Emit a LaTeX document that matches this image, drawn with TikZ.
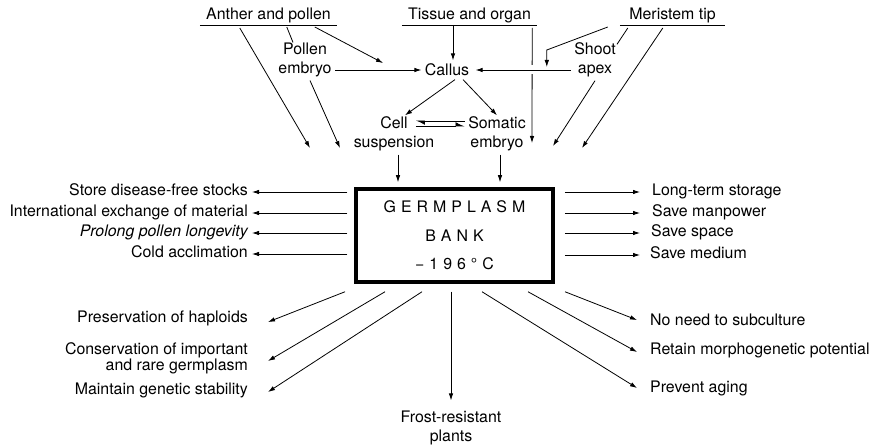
\documentclass[tikz,border=0pt]{standalone}
\usepackage{fontspec}
\setmainfont{TeX Gyre Heros}
\usetikzlibrary{arrows.meta, positioning, calc}

\newcommand{\ls}{\hspace{5pt}}

\begin{document}
\begin{tikzpicture}[x=1pt, y=-1pt, font=\fontsize{15.9}{19}\selectfont,
    arr/.style={-{Latex[length=7pt, width=4.5pt]}, line width=0.8pt},
    harp/.style={-{Latex[length=8pt, width=8pt, harpoon]}, line width=0.8pt},
    ln/.style={line width=0.8pt},
    src/.style={inner xsep=0pt, inner ysep=2pt, anchor=south},
    side/.style={inner sep=0pt, text height=11pt, text depth=3pt}]
  \useasboundingbox (0,0) rectangle (886,446);

  % starting material
  \node [src, minimum width=137pt] (anther) at (268.5,25) {Anther and pollen};
  \node [src, minimum width=135pt] (tissue) at (469.5,25) {Tissue and organ};
  \node [src, minimum width=105pt] (meri) at (672.5,25) {Meristem tip};
  \draw [ln] (anther.south west) -- (anther.south east);
  \draw [ln] (tissue.south west) -- (tissue.south east);
  \draw [ln] (meri.south west) -- (meri.south east);

  \node [align=center] (pemb) at (305,60) {Pollen\\embryo};
  \node (callus) at (447,70) {Callus};
  \node [align=center] (shoot) at (595,60) {Shoot\\apex};
  \node [align=center] (csus) at (394,134) {Cell\\suspension};
  \node [align=center] (semb) at (497,134) {Somatic\\embryo};

  % the bank
  \node [draw, line width=3.5pt, minimum width=197pt, minimum height=93pt, align=center,
         font=\fontsize{15.9}{28.5}\selectfont] (bank) at (454.5,235.5)
    {G\ls E\ls R\ls M\ls P\ls L\ls A\ls S\ls M\\B\ls A\ls N\ls K\\−\ls 1\ls 9\ls 6\ls °\ls C};

  % free ends above the bank
  \coordinate (in1) at (310,148);
  \coordinate (in2) at (340,148);
  \coordinate (in3) at (532,143);
  \coordinate (in4) at (553,146);
  \coordinate (in5) at (582,148);
  \coordinate (cin) at (383,63);

  \draw [ln] ([xshift=87pt, yshift=-2pt]anther.south west) -- ([xshift=-12pt, yshift=-3pt]pemb.north);
  \draw [arr] ([xshift=115pt, yshift=-2pt]anther.south west) -- (cin);
  \draw [arr] (pemb.east |- callus.west) -- (callus.west);
  \draw [arr] ([xshift=6pt]callus.north |- tissue.south) -- ([xshift=6pt]callus.north);
  \draw [arr] ([xshift=40pt, yshift=-3pt]anther.south west) -- (in1);
  \draw [arr] ([xshift=5pt]pemb.south) -- (in2);
  \draw [arr] ([xshift=-5pt, yshift=-3pt]tissue.south east) -- (in3);
  \draw [arr, preaction={draw, white, line width=9pt}, shorten >=3pt] (shoot.west |- callus.east) -- (callus.east);
  \draw [arr] ([xshift=-12pt, yshift=-2pt]meri.south west) -- ++(-61,23) -- ++(0,17);
  \draw [ln] ([xshift=8pt, yshift=-3pt]meri.south west) -- ([xshift=22pt, yshift=-5pt]shoot.north);
  \draw [arr] (shoot.south) -- (in4);
  \draw [arr] ([xshift=43pt, yshift=-3pt]meri.south west) -- (in5);

  \draw [arr] ([xshift=8pt]callus.south) -- ([xshift=11pt, yshift=-2pt]csus.north);
  \draw [arr] ([xshift=16pt]callus.south) -- ([yshift=-2pt]semb.north);
  \draw [harp] ([yshift=13pt]semb.west) -- ++(-49,0);
  \draw [harp] ([xshift=-49pt, yshift=8pt]semb.west) -- ++(49,0);
  \draw [arr, shorten >=5pt] ([xshift=4pt]csus.south) -- ([xshift=4pt]csus.south |- bank.north);
  \draw [arr, shorten >=5pt] ([xshift=3pt]semb.south) -- ([xshift=3pt]semb.south |- bank.north);

  % uses, left
  \node [side, anchor=east] (store) at (248,192) {Store disease-free stocks};
  \node [side, anchor=east] (intl) at (248,213) {International exchange of material};
  \node [side, anchor=east] (prolong) at (248,233) {\itshape Prolong pollen longevity};
  \node [side, anchor=east] (cold) at (248,254) {Cold acclimation};
  \draw [arr] ([xshift=-7pt]bank.west |- store.east) -- ([xshift=4pt]store.east);
  \draw [arr] ([xshift=-7pt]bank.west |- intl.east) -- ([xshift=4pt]intl.east);
  \draw [arr] ([xshift=-7pt]bank.west |- prolong.east) -- ([xshift=4pt]prolong.east);
  \draw [arr] ([xshift=-7pt]bank.west |- cold.east) -- ([xshift=4pt]cold.east);

  % uses, right
  \node [side, anchor=west] (lts) at (652,192) {Long-term storage};
  \node [side, anchor=west] (man) at (652,213) {Save manpower};
  \node [side, anchor=west] (space) at (651,233) {Save space};
  \node [side, anchor=west] (medium) at (650,255) {Save medium};
  \draw [arr] ([xshift=10pt]bank.east |- lts.west) -- ([xshift=-12pt]lts.west);
  \draw [arr] ([xshift=10pt]bank.east |- man.west) -- ([xshift=-12pt]man.west);
  \draw [arr] ([xshift=10pt]bank.east |- space.west) -- ([xshift=-11pt]space.west);
  \draw [arr] ([xshift=10pt]bank.east |- medium.west) -- ([xshift=-10pt]medium.west);

  % below the bank
  \node [side, anchor=east] (hapl) at (248,319) {Preservation of haploids};
  \node [inner sep=0pt, anchor=east, align=right] (cons) at (248,358)
    {Conservation of important\\[-3pt]and rare germplasm};
  \node [side, anchor=east] (stab) at (248,390) {Maintain genetic stability};
  \node [align=center] (frost) at (451,428) {Frost-resistant\\plants};
  \node [side, anchor=west] (subc) at (650,322) {No need to subculture};
  \node [side, anchor=west] (morph) at (650,350) {Retain morphogenetic potential};
  \node [side, anchor=west] (aging) at (650,388) {Prevent aging};

  \draw [arr] ([xshift=-109.5pt, yshift=-8pt]bank.south) -- ([xshift=20pt, yshift=-3pt]hapl.east);
  \draw [arr] ([xshift=-69.5pt, yshift=-8pt]bank.south) -- ([xshift=20pt, yshift=-3pt]cons.east);
  \draw [arr] ([xshift=-32.5pt, yshift=-8pt]bank.south) -- ([xshift=20pt, yshift=-2pt]stab.east);
  \draw [arr] ([yshift=-8pt]bank.south -| frost.north) -- ([yshift=7pt]frost.north);
  \draw [arr] ([xshift=27.5pt, yshift=-8pt]bank.south) -- ([xshift=-13pt]aging.west);
  \draw [arr] ([xshift=73.5pt, yshift=-8pt]bank.south) -- ([xshift=-13pt, yshift=-2pt]morph.west);
  \draw [arr] ([xshift=110.5pt, yshift=-8pt]bank.south) -- ([xshift=-13pt, yshift=2pt]subc.west);
\end{tikzpicture}
\end{document}
